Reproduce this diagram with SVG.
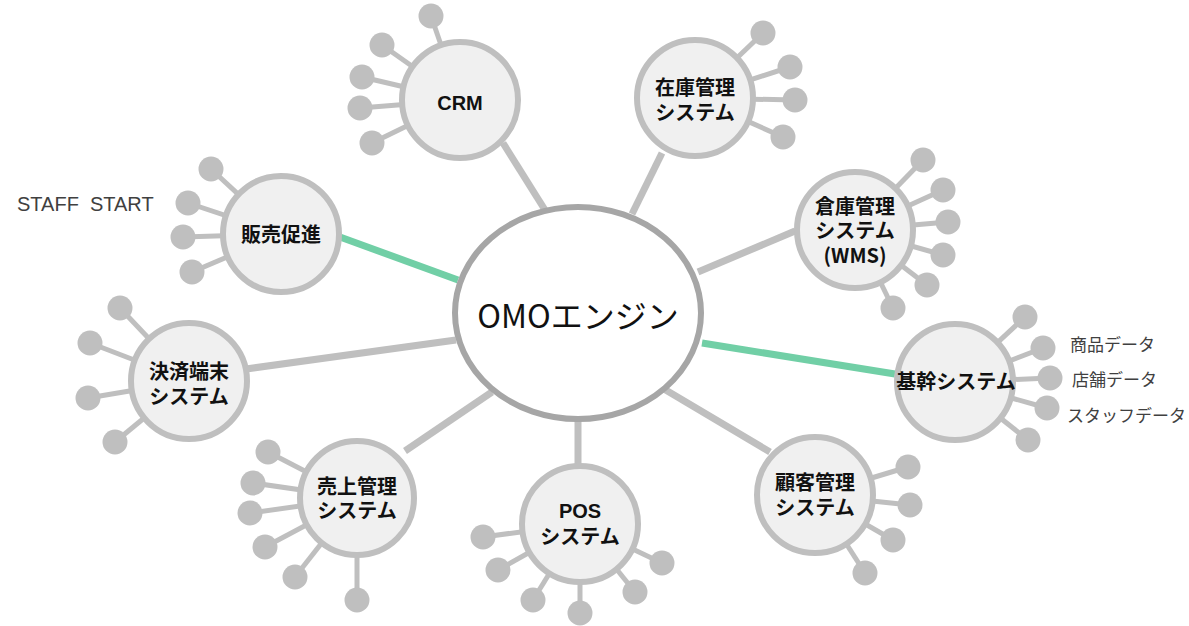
<svg xmlns="http://www.w3.org/2000/svg" width="1189" height="626" viewBox="0 0 1189 626">
<style>
.bg{fill:#ffffff}
.conn{stroke:#bfbfbf;stroke-width:7;fill:none}
.green{stroke:#71cfa6;stroke-width:7;fill:none}
.spoke{stroke:#bfbfbf;stroke-width:5}
.dot{fill:#bfbfbf}
.node{fill:#f0f0f0;stroke:#bfbfbf;stroke-width:6}
.hub{fill:#ffffff;stroke:#a6a6a6;stroke-width:6}
.lbl{font-family:"Noto Sans CJK JP","Liberation Sans",sans-serif;font-weight:700;font-size:20px;fill:#111111;text-anchor:middle}
.lat{font-family:"Liberation Sans","Noto Sans CJK JP",sans-serif;font-weight:700;font-size:20px;fill:#111111}
.side{font-family:"Noto Sans CJK JP","Liberation Sans",sans-serif;font-size:17px;fill:#404040}
.staff{font-family:"Liberation Sans","Noto Sans CJK JP",sans-serif;font-size:20px;fill:#404040}
.hubtxt{font-family:"Noto Sans CJK JP","Liberation Sans",sans-serif;font-size:32px;fill:#111111;text-anchor:middle}
</style>
<rect class="bg" x="0" y="0" width="1189" height="626"/>
<g id="connectors">
<line class="conn" x1="503" y1="143" x2="545" y2="210"/>
<line class="conn" x1="662" y1="153" x2="632" y2="214"/>
<line class="green" x1="340" y1="237" x2="458" y2="280"/>
<line class="conn" x1="795" y1="231" x2="698" y2="272"/>
<line class="green" x1="702" y1="343" x2="895" y2="374"/>
<line class="conn" x1="246" y1="369" x2="456" y2="340"/>
<line class="conn" x1="405" y1="451" x2="492" y2="392"/>
<line class="conn" x1="578" y1="418" x2="578" y2="468"/>
<line class="conn" x1="770" y1="452" x2="664" y2="389"/>
</g>
<g id="hub">
<ellipse class="hub" cx="578" cy="313" rx="123" ry="106"/>
<text class="hubtxt" x="578" y="328">OMOエンジン</text>
</g>
<g id="crm">
<line class="spoke" x1="460" y1="100" x2="431" y2="16"/><circle class="dot" cx="431" cy="16" r="12.5"/>
<line class="spoke" x1="460" y1="100" x2="382" y2="45"/><circle class="dot" cx="382" cy="45" r="12.5"/>
<line class="spoke" x1="460" y1="100" x2="362" y2="77"/><circle class="dot" cx="362" cy="77" r="12.5"/>
<line class="spoke" x1="460" y1="100" x2="360" y2="108"/><circle class="dot" cx="360" cy="108" r="12.5"/>
<line class="spoke" x1="460" y1="100" x2="372" y2="143"/><circle class="dot" cx="372" cy="143" r="12.5"/>
<circle class="node" cx="460" cy="100" r="58"/>
<text class="lat" x="460" y="110" text-anchor="middle">CRM</text>
</g>
<g id="zaiko">
<line class="spoke" x1="695" y1="98" x2="763" y2="33"/><circle class="dot" cx="763" cy="33" r="12.5"/>
<line class="spoke" x1="695" y1="98" x2="790" y2="67"/><circle class="dot" cx="790" cy="67" r="12.5"/>
<line class="spoke" x1="695" y1="98" x2="795" y2="100"/><circle class="dot" cx="795" cy="100" r="12.5"/>
<line class="spoke" x1="695" y1="98" x2="783" y2="137"/><circle class="dot" cx="783" cy="137" r="12.5"/>
<circle class="node" cx="695" cy="98" r="58"/>
<text class="lbl" x="695" y="95">在庫管理<tspan x="695" dy="25">システム</tspan></text>
</g>
<g id="hanbai">
<line class="spoke" x1="281" y1="234" x2="211" y2="169"/><circle class="dot" cx="211" cy="169" r="12.5"/>
<line class="spoke" x1="281" y1="234" x2="188" y2="203"/><circle class="dot" cx="188" cy="203" r="12.5"/>
<line class="spoke" x1="281" y1="234" x2="183" y2="237"/><circle class="dot" cx="183" cy="237" r="12.5"/>
<line class="spoke" x1="281" y1="234" x2="192" y2="272"/><circle class="dot" cx="192" cy="272" r="12.5"/>
<circle class="node" cx="281" cy="234" r="58"/>
<text class="lbl" x="281" y="242">販売促進</text>
</g>
<g id="staffstart">
<text class="staff" x="17" y="211">STAFF&#160; START</text>
</g>
<g id="souko">
<line class="spoke" x1="855" y1="230" x2="923" y2="160"/><circle class="dot" cx="923" cy="160" r="12.5"/>
<line class="spoke" x1="855" y1="230" x2="943" y2="190"/><circle class="dot" cx="943" cy="190" r="12.5"/>
<line class="spoke" x1="855" y1="230" x2="948" y2="222"/><circle class="dot" cx="948" cy="222" r="12.5"/>
<line class="spoke" x1="855" y1="230" x2="943" y2="255"/><circle class="dot" cx="943" cy="255" r="12.5"/>
<line class="spoke" x1="855" y1="230" x2="927" y2="285"/><circle class="dot" cx="927" cy="285" r="12.5"/>
<line class="spoke" x1="855" y1="230" x2="893" y2="308"/><circle class="dot" cx="893" cy="308" r="12.5"/>
<circle class="node" cx="855" cy="230" r="58"/>
<text class="lbl" x="855" y="214">倉庫管理<tspan x="855" dy="24">システム</tspan><tspan x="855" dy="25">(WMS)</tspan></text>
</g>
<g id="kikan">
<line class="spoke" x1="955" y1="382" x2="1025" y2="317"/><circle class="dot" cx="1025" cy="317" r="12.5"/>
<line class="spoke" x1="955" y1="382" x2="1043" y2="348"/><circle class="dot" cx="1043" cy="348" r="12.5"/>
<line class="spoke" x1="955" y1="382" x2="1050" y2="378"/><circle class="dot" cx="1050" cy="378" r="12.5"/>
<line class="spoke" x1="955" y1="382" x2="1047" y2="408"/><circle class="dot" cx="1047" cy="408" r="12.5"/>
<line class="spoke" x1="955" y1="382" x2="1028" y2="440"/><circle class="dot" cx="1028" cy="440" r="12.5"/>
<circle class="node" cx="955" cy="382" r="58"/>
<text class="lbl" x="956" y="389" font-size="19">基幹システム</text>
<text class="side" x="1070" y="351">商品データ</text>
<text class="side" x="1072" y="386">店舗データ</text>
<text class="side" x="1067" y="422">スタッフデータ</text>
</g>
<g id="kessai">
<line class="spoke" x1="189" y1="381" x2="120" y2="308"/><circle class="dot" cx="120" cy="308" r="12.5"/>
<line class="spoke" x1="189" y1="381" x2="90" y2="343"/><circle class="dot" cx="90" cy="343" r="12.5"/>
<line class="spoke" x1="189" y1="381" x2="88" y2="398"/><circle class="dot" cx="88" cy="398" r="12.5"/>
<line class="spoke" x1="189" y1="381" x2="115" y2="442"/><circle class="dot" cx="115" cy="442" r="12.5"/>
<circle class="node" cx="189" cy="381" r="58"/>
<text class="lbl" x="189" y="379">決済端末<tspan x="189" dy="25">システム</tspan></text>
</g>
<g id="uriage">
<line class="spoke" x1="357" y1="498" x2="268" y2="452"/><circle class="dot" cx="268" cy="452" r="12.5"/>
<line class="spoke" x1="357" y1="498" x2="253" y2="483"/><circle class="dot" cx="253" cy="483" r="12.5"/>
<line class="spoke" x1="357" y1="498" x2="250" y2="513"/><circle class="dot" cx="250" cy="513" r="12.5"/>
<line class="spoke" x1="357" y1="498" x2="265" y2="547"/><circle class="dot" cx="265" cy="547" r="12.5"/>
<line class="spoke" x1="357" y1="498" x2="295" y2="577"/><circle class="dot" cx="295" cy="577" r="12.5"/>
<line class="spoke" x1="357" y1="498" x2="357" y2="600"/><circle class="dot" cx="357" cy="600" r="12.5"/>
<circle class="node" cx="357" cy="498" r="57"/>
<text class="lbl" x="357" y="494">売上管理<tspan x="357" dy="24">システム</tspan></text>
</g>
<g id="pos">
<line class="spoke" x1="580" y1="524" x2="483" y2="537"/><circle class="dot" cx="483" cy="537" r="12.5"/>
<line class="spoke" x1="580" y1="524" x2="498" y2="570"/><circle class="dot" cx="498" cy="570" r="12.5"/>
<line class="spoke" x1="580" y1="524" x2="533" y2="600"/><circle class="dot" cx="533" cy="600" r="12.5"/>
<line class="spoke" x1="580" y1="524" x2="580" y2="613"/><circle class="dot" cx="580" cy="613" r="12.5"/>
<line class="spoke" x1="580" y1="524" x2="635" y2="592"/><circle class="dot" cx="635" cy="592" r="12.5"/>
<line class="spoke" x1="580" y1="524" x2="662" y2="563"/><circle class="dot" cx="662" cy="563" r="12.5"/>
<circle class="node" cx="580" cy="524" r="58"/>
<text class="lbl" x="580" y="518"><tspan style="font-family:'Liberation Sans','Noto Sans CJK JP',sans-serif">POS</tspan><tspan x="580" dy="26">システム</tspan></text>
</g>
<g id="kokyaku">
<line class="spoke" x1="815" y1="495" x2="908" y2="467"/><circle class="dot" cx="908" cy="467" r="12.5"/>
<line class="spoke" x1="815" y1="495" x2="910" y2="505"/><circle class="dot" cx="910" cy="505" r="12.5"/>
<line class="spoke" x1="815" y1="495" x2="893" y2="540"/><circle class="dot" cx="893" cy="540" r="12.5"/>
<line class="spoke" x1="815" y1="495" x2="865" y2="573"/><circle class="dot" cx="865" cy="573" r="12.5"/>
<circle class="node" cx="815" cy="495" r="58"/>
<text class="lbl" x="815" y="490">顧客管理<tspan x="815" dy="25">システム</tspan></text>
</g>
</svg>
